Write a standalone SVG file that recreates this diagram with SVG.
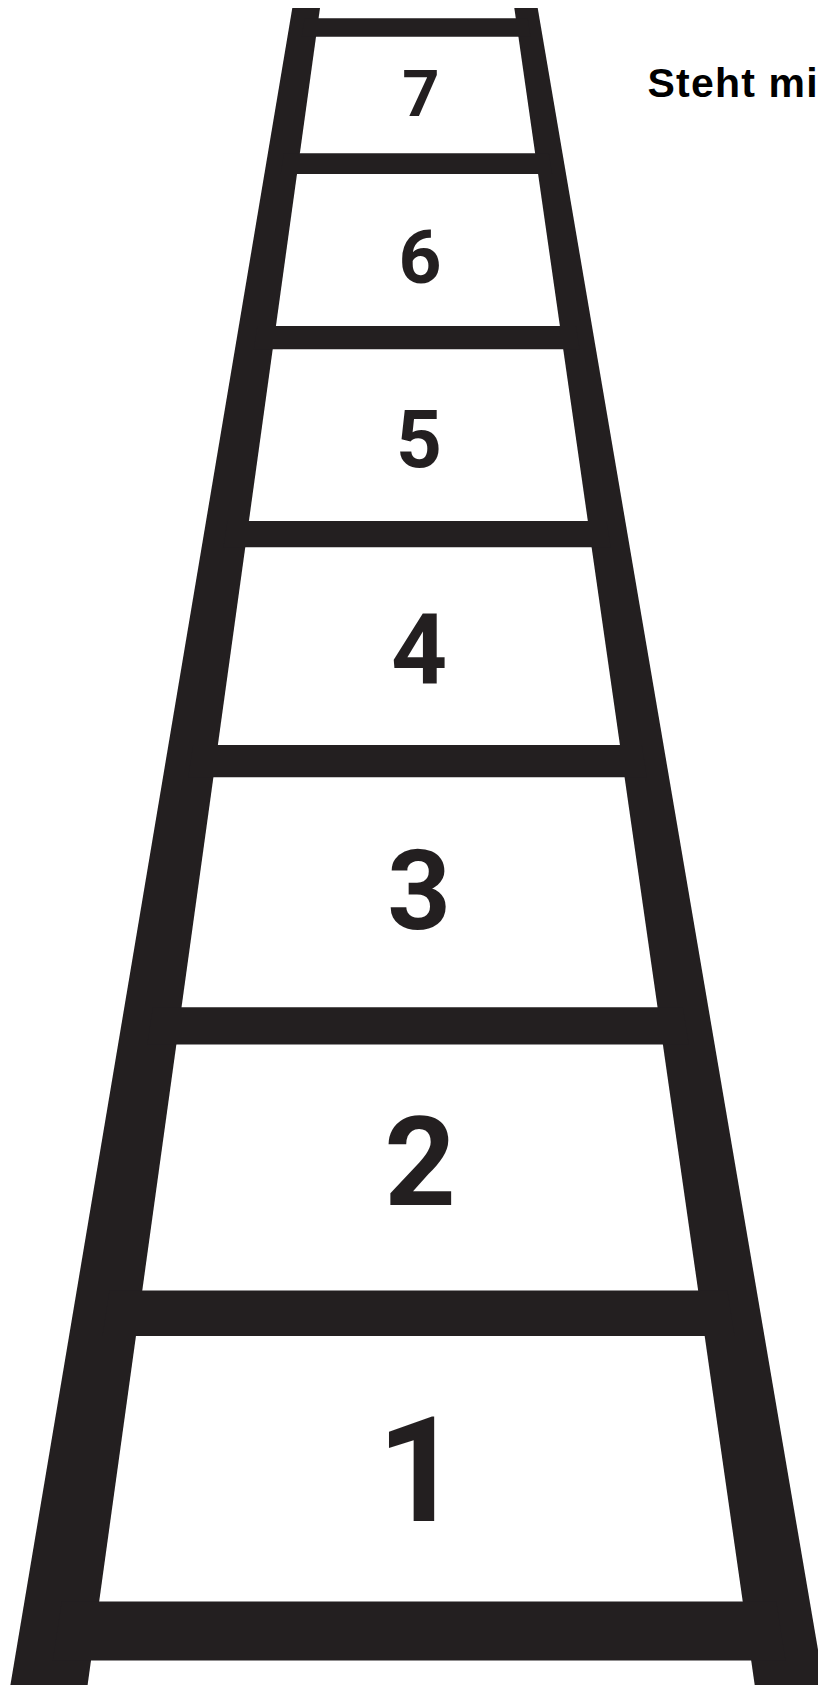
<svg xmlns="http://www.w3.org/2000/svg" width="818" height="1685" viewBox="0 0 818 1685">
<style>
.ink{fill:#231f20}
.num{font-family:Roboto,"Liberation Sans",Arial,sans-serif;font-weight:bold;fill:#231f20;text-anchor:middle}
.cap{font-family:"Liberation Sans",Arial,sans-serif;font-weight:bold;fill:#000;letter-spacing:1.2px}
</style>
<rect width="818" height="1685" fill="#fff"/>
<g id="legs" class="ink">
<polygon points="292.3,8 320,8 87.6,1685 10.4,1685"/>
<polygon points="514.3,8 537.7,8 824,1685 754.7,1685"/>
</g>
<g id="rungs" class="ink">
<polygon id="rung8" points="304.57,18.3 527.62,18.3 530.51,36.7 301.75,36.7"/>
<polygon id="rung7" points="283.87,153.3 548.82,153.3 552.07,174 280.7,174"/>
<polygon id="rung6" points="257.39,326 575.94,326 579.6,349.3 253.81,349.3"/>
<polygon id="rung5" points="227.49,521 606.56,521 610.69,547.3 223.45,547.3"/>
<polygon id="rung4" points="193.14,745 641.74,745 646.81,777.3 188.19,777.3"/>
<polygon id="rung3" points="152.93,1007.2 682.91,1007.2 688.75,1044.4 147.23,1044.4"/>
<polygon id="rung2" points="109.49,1290.5 727.4,1290.5 734.55,1336 102.51,1336"/>
<polygon id="rung1" points="61.8,1601.5 776.24,1601.5 785.51,1660.5 52.75,1660.5"/>
</g>
<g id="labels">
<g id="step7"><text class="num" x="421" y="116" font-size="65">7</text></g>
<g id="step6"><text class="num" x="420" y="283" font-size="75">6</text></g>
<g id="step5"><text class="num" x="419" y="467" font-size="80">5</text></g>
<g id="step4"><text class="num" x="419" y="683" font-size="98">4</text></g>
<g id="step3"><text class="num" x="419" y="929" font-size="111">3</text></g>
<g id="step2"><text class="num" x="420" y="1205" font-size="125">2</text></g>
<g id="step1"><text class="num" x="419" y="1521" font-size="146">1</text></g>
</g>
<g id="caption"><text class="cap" x="647.5" y="97" font-size="41">Steht mi</text></g>
</svg>
